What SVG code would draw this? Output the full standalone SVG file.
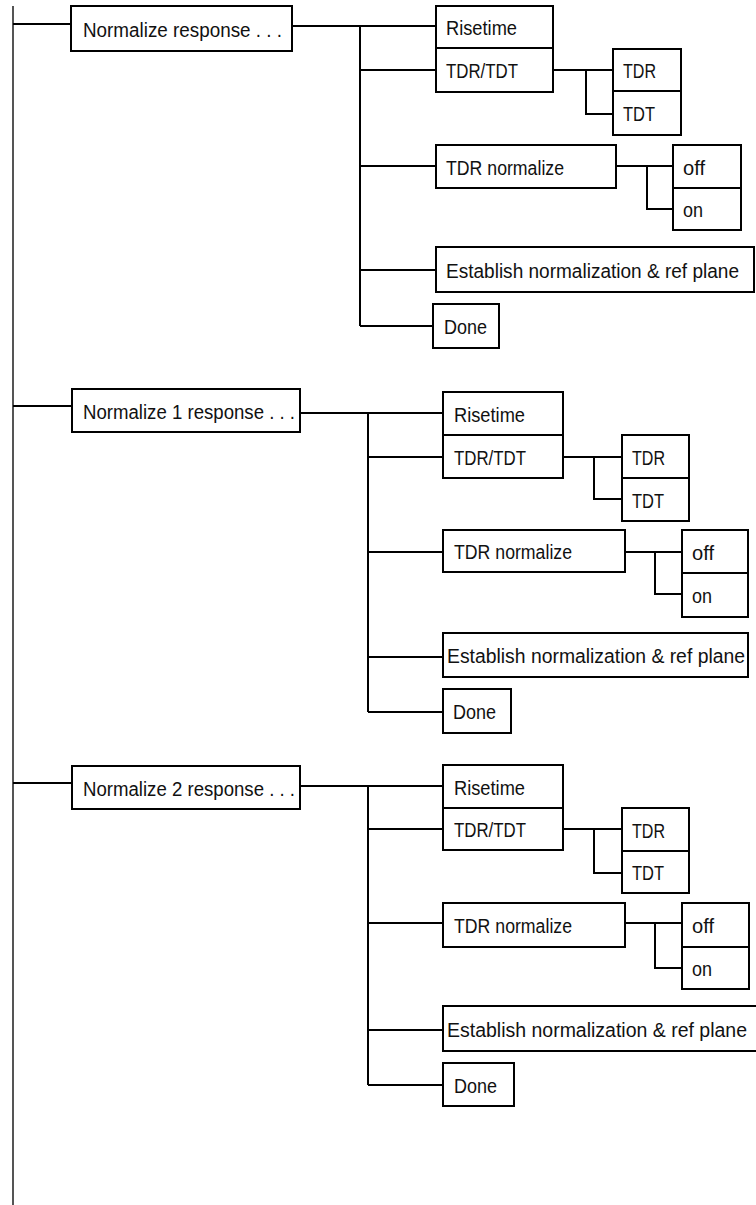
<svg xmlns="http://www.w3.org/2000/svg" width="756" height="1205" viewBox="0 0 756 1205">
<style>
.box{fill:#fff;stroke:#000;stroke-width:2}
.lbl{font-family:"Liberation Sans",Arial,sans-serif;font-size:20px;fill:#111}
.c{fill:none;stroke:#000;stroke-width:2}
.trunk{fill:none;stroke:#555;stroke-width:2}
</style>
<rect width="756" height="1205" fill="#fff"/>
<g id="connectors">
<path class="trunk" d="M13,6 V1205"/>
<!-- section 1 -->
<path class="c" d="M13,24 H71"/>
<path class="c" d="M292,26 H436"/>
<path class="c" d="M360,26 V326"/>
<path class="c" d="M360,70 H436"/>
<path class="c" d="M553,70 H613 M586,70 V114 H613"/>
<path class="c" d="M360,166 H436"/>
<path class="c" d="M616,166 H673 M647,166 V209 H673"/>
<path class="c" d="M360,270 H436"/>
<path class="c" d="M360,326 H433"/>
<!-- section 2 -->
<path class="c" d="M13,406 H72"/>
<path class="c" d="M300,413 H443"/>
<path class="c" d="M368,413 V712"/>
<path class="c" d="M368,457 H443"/>
<path class="c" d="M563,457 H622 M594,457 V499 H622"/>
<path class="c" d="M368,552 H443"/>
<path class="c" d="M625,552 H682 M655,552 V594 H682"/>
<path class="c" d="M368,657 H443"/>
<path class="c" d="M368,712 H443"/>
<!-- section 3 -->
<path class="c" d="M13,783 H72"/>
<path class="c" d="M300,786 H443"/>
<path class="c" d="M368,786 V1085"/>
<path class="c" d="M368,829 H443"/>
<path class="c" d="M563,829 H622 M594,829 V873 H622"/>
<path class="c" d="M368,923 H443"/>
<path class="c" d="M625,923 H682 M655,923 V968 H682"/>
<path class="c" d="M368,1030 H443"/>
<path class="c" d="M368,1085 H443"/>
</g>
<!-- Section 1 nodes -->
<g id="normalize-response"><rect class="box" x="71" y="6" width="221" height="45"/><text class="lbl" x="83" y="37" textLength="199" lengthAdjust="spacingAndGlyphs">Normalize response . . .</text></g>
<g id="risetime-1"><rect class="box" x="436" y="6" width="117" height="42"/><text class="lbl" x="446" y="35" textLength="71" lengthAdjust="spacingAndGlyphs">Risetime</text></g>
<g id="tdrtdt-1"><rect class="box" x="436" y="48" width="117" height="44"/><text class="lbl" x="446" y="78" textLength="72" lengthAdjust="spacingAndGlyphs">TDR/TDT</text></g>
<g id="tdr-1"><rect class="box" x="613" y="49" width="68" height="42"/><text class="lbl" x="623" y="78" textLength="33" lengthAdjust="spacingAndGlyphs">TDR</text></g>
<g id="tdt-1"><rect class="box" x="613" y="91" width="68" height="44"/><text class="lbl" x="623" y="121" textLength="32" lengthAdjust="spacingAndGlyphs">TDT</text></g>
<g id="tdr-normalize-1"><rect class="box" x="436" y="145" width="180" height="43"/><text class="lbl" x="446" y="174.5" textLength="118" lengthAdjust="spacingAndGlyphs">TDR normalize</text></g>
<g id="off-1"><rect class="box" x="673" y="145" width="68" height="43"/><text class="lbl" x="683" y="174.5" textLength="22" lengthAdjust="spacingAndGlyphs">off</text></g>
<g id="on-1"><rect class="box" x="673" y="188" width="68" height="42"/><text class="lbl" x="683" y="217" textLength="20" lengthAdjust="spacingAndGlyphs">on</text></g>
<g id="establish-1"><rect class="box" x="436" y="247" width="318" height="45"/><text class="lbl" x="446" y="277.5" textLength="293" lengthAdjust="spacingAndGlyphs">Establish normalization &amp; ref plane</text></g>
<g id="done-1"><rect class="box" x="433" y="304" width="66" height="44"/><text class="lbl" x="444" y="334" textLength="43" lengthAdjust="spacingAndGlyphs">Done</text></g>
<!-- Section 2 nodes -->
<g id="normalize-1-response"><rect class="box" x="72" y="389" width="228" height="43"/><text class="lbl" x="83" y="418.5" textLength="212" lengthAdjust="spacingAndGlyphs">Normalize 1 response . . .</text></g>
<g id="risetime-2"><rect class="box" x="443" y="392" width="120" height="43"/><text class="lbl" x="454" y="421.5" textLength="71" lengthAdjust="spacingAndGlyphs">Risetime</text></g>
<g id="tdrtdt-2"><rect class="box" x="443" y="435" width="120" height="43"/><text class="lbl" x="454" y="464.5" textLength="72" lengthAdjust="spacingAndGlyphs">TDR/TDT</text></g>
<g id="tdr-2"><rect class="box" x="622" y="435" width="67" height="43"/><text class="lbl" x="632" y="464.5" textLength="33" lengthAdjust="spacingAndGlyphs">TDR</text></g>
<g id="tdt-2"><rect class="box" x="622" y="478" width="67" height="43"/><text class="lbl" x="632" y="507.5" textLength="32" lengthAdjust="spacingAndGlyphs">TDT</text></g>
<g id="tdr-normalize-2"><rect class="box" x="443" y="530" width="182" height="42"/><text class="lbl" x="454" y="559" textLength="118" lengthAdjust="spacingAndGlyphs">TDR normalize</text></g>
<g id="off-2"><rect class="box" x="682" y="530" width="66" height="43"/><text class="lbl" x="692" y="559.5" textLength="22" lengthAdjust="spacingAndGlyphs">off</text></g>
<g id="on-2"><rect class="box" x="682" y="573" width="66" height="44"/><text class="lbl" x="692" y="603" textLength="20" lengthAdjust="spacingAndGlyphs">on</text></g>
<g id="establish-2"><rect class="box" x="443" y="633" width="305" height="44"/><text class="lbl" x="447" y="663" textLength="298" lengthAdjust="spacingAndGlyphs">Establish normalization &amp; ref plane</text></g>
<g id="done-2"><rect class="box" x="443" y="689" width="68" height="44"/><text class="lbl" x="453" y="719" textLength="43" lengthAdjust="spacingAndGlyphs">Done</text></g>
<!-- Section 3 nodes -->
<g id="normalize-2-response"><rect class="box" x="72" y="766" width="228" height="43"/><text class="lbl" x="83" y="795.5" textLength="212" lengthAdjust="spacingAndGlyphs">Normalize 2 response . . .</text></g>
<g id="risetime-3"><rect class="box" x="443" y="765" width="120" height="43"/><text class="lbl" x="454" y="794.5" textLength="71" lengthAdjust="spacingAndGlyphs">Risetime</text></g>
<g id="tdrtdt-3"><rect class="box" x="443" y="808" width="120" height="42"/><text class="lbl" x="454" y="837" textLength="72" lengthAdjust="spacingAndGlyphs">TDR/TDT</text></g>
<g id="tdr-3"><rect class="box" x="622" y="808" width="67" height="43"/><text class="lbl" x="632" y="837.5" textLength="33" lengthAdjust="spacingAndGlyphs">TDR</text></g>
<g id="tdt-3"><rect class="box" x="622" y="851" width="67" height="42"/><text class="lbl" x="632" y="880" textLength="32" lengthAdjust="spacingAndGlyphs">TDT</text></g>
<g id="tdr-normalize-3"><rect class="box" x="443" y="903" width="182" height="44"/><text class="lbl" x="454" y="933" textLength="118" lengthAdjust="spacingAndGlyphs">TDR normalize</text></g>
<g id="off-3"><rect class="box" x="682" y="903" width="67" height="44"/><text class="lbl" x="692" y="933" textLength="22" lengthAdjust="spacingAndGlyphs">off</text></g>
<g id="on-3"><rect class="box" x="682" y="947" width="67" height="42"/><text class="lbl" x="692" y="976" textLength="20" lengthAdjust="spacingAndGlyphs">on</text></g>
<g id="establish-3"><rect class="box" x="443" y="1006" width="320" height="45"/><text class="lbl" x="447" y="1036.5" textLength="300" lengthAdjust="spacingAndGlyphs">Establish normalization &amp; ref plane</text></g>
<g id="done-3"><rect class="box" x="443" y="1063" width="71" height="43"/><text class="lbl" x="454" y="1093" textLength="43" lengthAdjust="spacingAndGlyphs">Done</text></g>
</svg>
